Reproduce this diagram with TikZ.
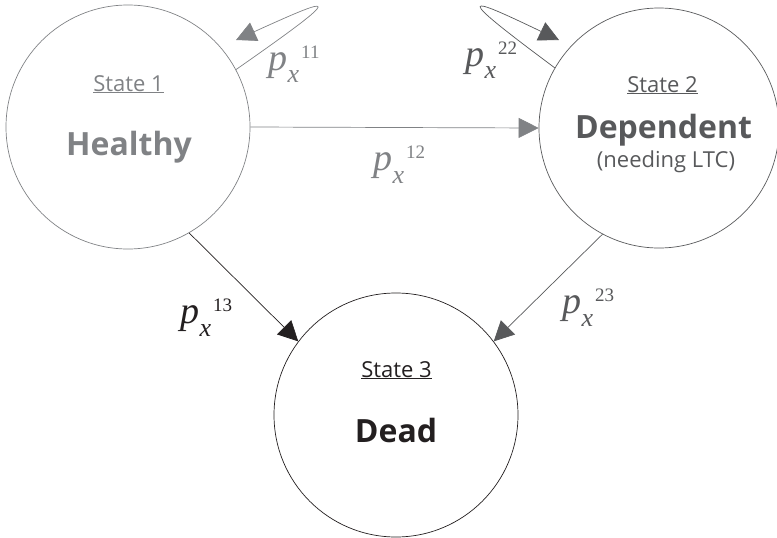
\documentclass[tikz,border=0pt]{standalone}
\usepackage{fontspec}
\setmainfont{Open Sans}
\newfontfamily\probfont{Liberation Serif}
\usetikzlibrary{arrows.meta}
\definecolor{lightgrey}{RGB}{128,130,133}
\definecolor{darkgrey}{RGB}{88,89,91}
\definecolor{nearblack}{RGB}{35,31,32}
\newcommand{\trans}[1]{{\probfont\fontsize{38}{40}\selectfont\itshape p}\kern0.5pt\raisebox{-13pt}{\probfont\fontsize{26}{28}\selectfont\itshape x}\kern2pt\raisebox{12pt}{\probfont\fontsize{19}{20}\selectfont #1}}

\begin{document}
\begin{tikzpicture}[yscale=-1,x=1pt,y=1pt,>={Triangle[length=20pt,width=20pt]}]
	\tikzstyle{statebox} = [circle, draw, line width=0.7pt, minimum size=244pt, inner sep=0pt]
	\tikzstyle{statetitle} = [anchor=base, inner sep=0pt, font=\fontsize{22}{26}\selectfont]
	\tikzstyle{statename} = [anchor=base, inner sep=0pt, font=\fontsize{32}{38}\selectfont\bfseries]
	\tikzstyle{statenote} = [anchor=base, inner sep=0pt, font=\fontsize{22}{26}\selectfont]
	\tikzstyle{problabel} = [anchor=base west, inner sep=0pt]
	\tikzstyle{move} = [->, line width=0.7pt]

	\useasboundingbox (0,0) rectangle (777,538);

	% the three states
	\node[statebox, draw=lightgrey] (Healthy) at (128,127) {};
	\node[statebox, draw=darkgrey, minimum size=240pt] (Dependent) at (659,128) {};
	\node[statebox, draw=nearblack] (Dead) at (396,415) {};

	\node[statetitle, lightgrey] (t1) at (128.5,91) {\underline{State 1}};
	\node[statename, lightgrey] (n1) at (129,155) {Healthy};
	\node[statetitle, darkgrey] (t2) at (662.5,92) {\underline{State 2}};
	\node[statename, darkgrey] (n2) at (663.5,138) {Dependent};
	\node[statenote, darkgrey] (n2b) at (666,167) {(needing LTC)};
	\node[statetitle, nearblack] (t3) at (396.5,377) {\underline{State 3}};
	\node[statename, nearblack] (n3) at (396,442) {Dead};

	% transitions
	\coordinate (loopone) at (236,40);
	\coordinate (looptwo) at (559,40);
	\draw[move, lightgrey] (Healthy.28) .. controls (350,-10) and (335,-5) .. (loopone);
	\draw[move, darkgrey] (Dependent.150) .. controls (450,-10) and (465,-5) .. (looptwo);
	\draw[move, lightgrey] (Healthy.east) -- (Dependent.west);
	\draw[move, nearblack] (Healthy.-60) -- (Dead.143);
	\draw[move, darkgrey] (Dependent.-118) -- (Dead.37);

	\node[problabel, lightgrey] (p11) at (268,70) {\trans{11}};
	\node[problabel, darkgrey] (p22) at (465,66) {\trans{22}};
	\node[problabel, lightgrey] (p12) at (373,170) {\trans{12}};
	\node[problabel, nearblack] (p13) at (180,323) {\trans{13}};
	\node[problabel, darkgrey] (p23) at (562,313) {\trans{23}};
\end{tikzpicture}
\end{document}
